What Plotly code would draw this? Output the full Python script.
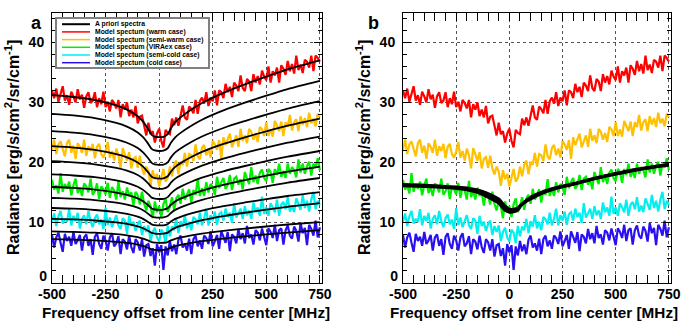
import plotly.graph_objects as go

# ---------------- data ----------------
FREQ = [-500, -490, -480, -470, -460, -450, -440, -430, -420, -410,
        -400, -390, -380, -370, -360, -350, -340, -330, -320, -310,
        -300, -290, -280, -270, -260, -250, -240, -230, -220, -210,
        -200, -190, -180, -170, -160, -150, -140, -130, -120, -110,
        -100, -90, -80, -70, -60, -50, -40, -30, -20, -10,
        0, 10, 20, 30, 40, 50, 60, 70, 80, 90,
        100, 110, 120, 130, 140, 150, 160, 170, 180, 190,
        200, 210, 220, 230, 240, 250, 260, 270, 280, 290,
        300, 310, 320, 330, 340, 350, 360, 370, 380, 390,
        400, 410, 420, 430, 440, 450, 460, 470, 480, 490,
        500, 510, 520, 530, 540, 550, 560, 570, 580, 590,
        600, 610, 620, 630, 640, 650, 660, 670, 680, 690,
        700, 710, 720, 730, 740, 750]

WARM = [32.0, 30.7, 32.3, 30.1, 31.4, 32.7, 30.3, 31.2, 29.6, 31.8,
        31.0, 30.0, 32.2, 30.5, 31.3, 29.1, 31.0, 31.7, 29.9, 30.3,
        31.7, 29.2, 30.7, 29.7, 31.8, 29.2, 30.1, 28.5, 30.4, 29.9,
        29.0, 30.4, 27.5, 29.7, 28.8, 30.0, 27.7, 28.8, 27.5, 29.4,
        26.5, 27.6, 27.8, 26.1, 24.5, 26.6, 24.7, 25.2, 23.3, 24.8,
        25.6, 23.6, 22.5, 25.4, 24.9, 24.7, 27.3, 26.2, 27.5, 26.1,
        27.9, 29.5, 27.5, 27.1, 29.3, 28.9, 28.2, 30.4, 28.1, 30.2,
        30.8, 29.8, 31.7, 29.4, 30.8, 30.2, 32.0, 29.5, 32.0, 31.7,
        30.7, 33.1, 31.7, 32.6, 30.9, 33.3, 32.8, 31.9, 34.5, 32.4,
        31.9, 33.9, 33.5, 31.9, 34.7, 33.3, 34.4, 33.0, 35.3, 34.3,
        33.7, 36.0, 33.3, 35.2, 34.5, 35.8, 33.3, 36.2, 35.6, 34.6,
        36.9, 35.2, 36.4, 34.8, 37.8, 35.4, 36.3, 34.9, 37.1, 36.8,
        35.8, 37.8, 35.2, 37.8, 37.4, 36.8]

SEMI_WARM = [22.1, 23.8, 21.4, 23.0, 23.5, 22.4, 21.0, 23.2, 23.8, 21.6,
             22.8, 20.6, 23.2, 22.6, 21.6, 23.8, 21.1, 22.7, 21.9, 23.1,
             20.7, 22.6, 23.1, 21.4, 20.8, 21.8, 23.4, 20.8, 21.9, 20.3,
             22.3, 21.2, 19.0, 22.4, 21.5, 20.3, 21.7, 19.0, 20.6, 20.9,
             19.1, 21.1, 19.0, 18.0, 19.3, 18.5, 16.1, 18.7, 17.2, 18.1,
             16.0, 17.7, 18.9, 16.8, 17.4, 19.3, 17.7, 19.6, 20.3, 18.0,
             20.1, 19.6, 21.6, 19.3, 21.4, 21.2, 20.2, 23.0, 21.0, 20.5,
             22.4, 22.9, 21.2, 22.3, 20.8, 23.6, 23.0, 22.1, 23.7, 20.6,
             24.2, 22.9, 23.8, 24.8, 22.5, 23.4, 24.5, 22.6, 25.6, 23.6,
             24.5, 23.2, 25.6, 25.1, 23.8, 24.9, 23.4, 25.9, 25.5, 24.4,
             26.7, 24.4, 25.5, 24.3, 26.9, 26.1, 25.2, 26.8, 24.4, 26.7,
             25.9, 27.9, 25.3, 26.7, 27.2, 25.2, 27.7, 26.3, 27.4, 25.9,
             28.3, 26.5, 27.3, 26.0, 28.1, 27.6]

VIRAEX = [17.1, 15.5, 16.2, 14.8, 18.2, 15.1, 16.4, 15.6, 16.8, 14.5,
          16.2, 17.3, 14.9, 15.8, 14.4, 16.5, 16.0, 15.0, 17.3, 14.6,
          15.2, 16.5, 13.9, 16.0, 15.5, 14.7, 16.6, 14.1, 15.9, 15.3,
          13.8, 16.9, 14.2, 15.2, 13.8, 15.8, 14.4, 15.0, 12.8, 15.1,
          14.5, 13.0, 15.1, 13.1, 12.0, 13.6, 12.7, 10.7, 13.5, 11.7,
          12.7, 10.9, 13.0, 14.0, 11.7, 12.6, 14.2, 12.1, 14.0, 14.6,
          13.1, 15.6, 13.8, 14.6, 15.5, 13.3, 15.4, 14.6, 17.2, 14.4,
          15.7, 14.4, 16.7, 15.0, 16.4, 15.9, 14.6, 17.6, 15.7, 16.7,
          17.4, 15.6, 16.2, 17.9, 15.4, 17.3, 17.6, 16.3, 17.2, 15.5,
          18.4, 17.3, 16.4, 19.2, 16.7, 17.8, 16.4, 18.3, 18.8, 17.4,
          16.9, 18.9, 18.4, 16.6, 18.9, 17.9, 19.8, 17.6, 18.6, 17.4,
          19.8, 18.1, 19.2, 18.7, 17.5, 20.5, 18.3, 19.8, 18.1, 19.4,
          20.1, 17.8, 19.8, 19.1, 20.7, 18.7]

SEMI_COLD = [10.1, 11.5, 9.4, 11.0, 11.9, 9.8, 10.6, 10.1, 12.2, 9.5,
             11.1, 10.2, 11.6, 9.0, 10.6, 11.2, 9.7, 11.9, 10.2, 9.2,
             10.7, 11.3, 9.7, 10.5, 8.9, 12.4, 9.6, 10.8, 9.2, 10.1,
             11.2, 9.5, 8.9, 10.7, 10.3, 8.1, 11.1, 9.4, 10.1, 8.6,
             9.7, 10.3, 7.9, 9.4, 8.4, 9.5, 6.9, 8.4, 9.1, 7.5,
             6.8, 8.8, 8.3, 6.5, 9.4, 7.7, 9.3, 8.7, 10.6, 8.2,
             10.2, 9.3, 11.2, 9.0, 10.1, 8.7, 10.9, 10.5, 9.7, 11.6,
             9.5, 10.6, 12.3, 9.5, 11.2, 10.3, 11.8, 9.6, 11.4, 11.7,
             10.3, 12.3, 10.9, 11.6, 9.9, 13.2, 10.8, 11.5, 12.3, 10.6,
             12.7, 11.2, 12.0, 10.6, 13.3, 11.7, 12.5, 11.1, 14.3, 11.4,
             12.5, 11.1, 13.2, 12.5, 11.7, 13.8, 11.1, 13.0, 13.4, 12.2,
             14.2, 11.8, 12.8, 11.7, 14.0, 13.1, 12.1, 14.6, 12.4, 13.6,
             11.8, 13.8, 15.1, 12.2, 13.6, 12.9]

COLD = [7.9, 5.8, 7.5, 8.3, 6.6, 5.1, 8.1, 6.9, 7.6, 6.1,
        8.4, 6.4, 7.0, 7.9, 5.3, 7.5, 8.0, 6.1, 7.2, 4.6,
        7.6, 8.2, 6.4, 5.6, 7.8, 7.0, 5.3, 7.5, 8.2, 6.0,
        6.5, 7.7, 4.7, 7.2, 6.8, 5.5, 7.8, 5.9, 4.9, 7.2,
        6.7, 5.3, 7.2, 4.3, 6.2, 6.4, 4.4, 5.7, 2.8, 6.4,
        5.0, 6.2, 2.1, 6.0, 4.5, 6.9, 5.2, 6.3, 4.7, 7.1,
        7.8, 5.8, 6.5, 5.3, 7.3, 4.7, 7.2, 7.8, 6.0, 7.0,
        5.6, 7.8, 7.4, 6.4, 8.5, 6.0, 6.9, 7.9, 5.6, 8.5,
        7.6, 6.6, 8.4, 5.2, 8.0, 7.6, 6.5, 8.9, 7.2, 8.2,
        6.5, 9.4, 7.4, 8.0, 6.3, 8.7, 8.3, 7.0, 9.0, 7.4,
        6.2, 9.0, 8.4, 7.4, 9.6, 6.9, 8.7, 9.0, 6.3, 8.7,
        9.5, 7.8, 7.3, 9.3, 8.6, 6.8, 9.9, 8.2, 9.1, 6.2,
        9.6, 8.9, 7.8, 10.3, 7.5, 9.2]

# a priori spectra (panel a)
FREQ_AP = [-500, -400, -300, -200, -150, -100, -75, -50, -35, -20, 0,
           20, 40, 55, 75, 100, 150, 200, 300, 400, 500, 600, 750]
AP_01 = [31.2, 30.9, 30.4, 29.5, 28.8, 27.7, 26.8, 25.5, 24.6, 24.3, 24.2, 24.25, 24.7, 25.7, 26.7, 27.5, 28.8, 29.9, 31.6, 33.0, 34.3, 35.5, 37.0]
AP_02 = [28.1, 27.83, 27.39, 26.59, 25.97, 25.0, 24.2, 23.05, 22.25, 21.99, 21.9, 21.95, 22.36, 23.27, 24.18, 24.92, 26.1, 27.11, 28.66, 29.95, 31.13, 32.23, 33.6]
AP_03 = [25.2, 24.96, 24.56, 23.84, 23.28, 22.4, 21.68, 20.64, 19.92, 19.68, 19.6, 19.64, 20.01, 20.84, 21.67, 22.33, 23.41, 24.32, 25.73, 26.89, 27.96, 28.96, 30.2]
AP_04 = [22.7, 22.47, 22.08, 21.39, 20.85, 20.0, 19.3, 18.3, 17.61, 17.38, 17.3, 17.34, 17.69, 18.47, 19.25, 19.88, 20.89, 21.75, 23.08, 24.18, 25.19, 26.13, 27.3]
AP_05 = [20.2, 20.0, 19.68, 19.08, 18.62, 17.9, 17.31, 16.46, 15.86, 15.66, 15.6, 15.63, 15.94, 16.62, 17.3, 17.84, 18.72, 19.47, 20.63, 21.59, 22.46, 23.28, 24.3]
AP_06 = [18.0, 17.82, 17.53, 17.0, 16.59, 15.95, 15.42, 14.66, 14.13, 13.96, 13.9, 13.93, 14.21, 14.84, 15.46, 15.96, 16.77, 17.46, 18.52, 19.4, 20.21, 20.96, 21.9]
AP_07 = [15.9, 15.74, 15.47, 14.98, 14.6, 14.0, 13.51, 12.81, 12.32, 12.15, 12.1, 12.13, 12.38, 12.94, 13.5, 13.96, 14.68, 15.3, 16.26, 17.05, 17.78, 18.46, 19.3]
AP_08 = [14.1, 13.96, 13.72, 13.3, 12.97, 12.45, 12.02, 11.41, 10.99, 10.85, 10.8, 10.83, 11.06, 11.57, 12.09, 12.5, 13.17, 13.74, 14.61, 15.34, 16.01, 16.63, 17.4]
AP_09 = [12.4, 12.28, 12.07, 11.7, 11.41, 10.95, 10.58, 10.04, 9.67, 9.54, 9.5, 9.52, 9.72, 10.15, 10.58, 10.93, 11.49, 11.97, 12.71, 13.32, 13.88, 14.4, 15.05]
AP_10 = [10.6, 10.49, 10.32, 9.99, 9.74, 9.35, 9.03, 8.57, 8.24, 8.14, 8.1, 8.12, 8.3, 8.7, 9.09, 9.42, 9.93, 10.37, 11.05, 11.61, 12.12, 12.6, 13.2]
AP_11 = [8.5, 8.42, 8.28, 8.04, 7.85, 7.55, 7.3, 6.95, 6.71, 6.63, 6.6, 6.61, 6.73, 7.0, 7.27, 7.49, 7.84, 8.14, 8.59, 8.97, 9.32, 9.65, 10.05]
AP_12 = [7.2, 7.12, 6.99, 6.76, 6.58, 6.3, 6.07, 5.73, 5.5, 5.43, 5.4, 5.41, 5.53, 5.79, 6.04, 6.25, 6.58, 6.87, 7.31, 7.67, 8.0, 8.31, 8.7]

# retrieved spectra (panel b), overlapping bundle
RET_1 = [16.2, 16.1, 15.9, 15.6, 15.2, 14.5, 14.1, 13.6, 13.0, 12.4, 12.0, 12.05, 12.3, 12.9, 13.5, 14.1, 14.9, 15.5, 16.4, 17.3, 18.1, 18.8, 19.6]
RET_2 = [16.3, 16.2, 16.0, 15.75, 15.4, 14.8, 14.4, 13.9, 13.3, 12.7, 12.2, 12.2, 12.4, 12.9, 13.4, 13.9, 14.8, 15.45, 16.35, 17.25, 18.05, 18.75, 19.55]
RET_3 = [16.1, 16.0, 15.8, 15.45, 15.0, 14.2, 13.7, 13.2, 12.6, 12.0, 11.7, 11.75, 12.1, 12.8, 13.5, 14.2, 15.0, 15.6, 16.45, 17.35, 18.15, 18.85, 19.65]

X_TICKS = [-500, -250, 0, 250, 500, 750]
X_TICK_LABELS = ["-500", "-250", "0", "250", "500", "750"]
Y_TICKS = [10, 20, 30, 40]
Y_TICK_LABELS = ["10", "20", "30", "40"]
Y_ZERO_TICK = [0]
Y_ZERO_LABEL = ["0"]

SERIES = [("Model spectum (warm case)", WARM, "#ff0000"),
          ("Model spectum (semi-warm case)", SEMI_WARM, "#ffc000"),
          ("Model spectum (VIRAex case)", VIRAEX, "#00ee00"),
          ("Model spectum (semi-cold case)", SEMI_COLD, "#00f0f0"),
          ("Model spectum (cold case)", COLD, "#2a10f0")]
AP_CURVES = [AP_01, AP_02, AP_03, AP_04, AP_05, AP_06, AP_07, AP_08, AP_09, AP_10, AP_11, AP_12]
RET_CURVES = [RET_1, RET_2, RET_3]

FONT = "Liberation Sans, Arial, Helvetica, sans-serif"

fig = go.Figure()
for xa, ya in (("x", "y"), ("x2", "y2")):
    for name, vals, col in SERIES:
        fig.add_trace(go.Scatter(x=FREQ, y=vals, mode="lines", name=name,
                                 line=dict(color=col, width=2.2),
                                 xaxis=xa, yaxis=ya, showlegend=False))
for vals in AP_CURVES:
    fig.add_trace(go.Scatter(x=FREQ_AP, y=vals, mode="lines", name="A priori spectra",
                             line=dict(color="black", width=1.8, shape="spline", smoothing=0.8),
                             xaxis="x", yaxis="y", showlegend=False))
for vals in RET_CURVES:
    fig.add_trace(go.Scatter(x=FREQ_AP, y=vals, mode="lines",
                             line=dict(color="black", width=3, shape="spline", smoothing=0.8),
                             xaxis="x2", yaxis="y2", showlegend=False))
# empty helper traces so the overlay axes carrying the "0" label are drawn
fig.add_trace(go.Scatter(x=[], y=[], xaxis="x", yaxis="y3", showlegend=False, hoverinfo="skip"))
fig.add_trace(go.Scatter(x=[], y=[], xaxis="x2", yaxis="y4", showlegend=False, hoverinfo="skip"))

W, H = 685, 327
def px(x):
    return x / W
def py(y):
    return 1 - y / H

xdom_a = [px(52), px(322)]
xdom_b = [px(403), px(671)]
ydom = [py(283), py(13)]
Y_RANGE = [-0.1, 44.9]

tickfont = dict(family=FONT, size=14, color="black", weight="bold")

def bold(lbls):
    return ["<b>%s</b>" % s for s in lbls]

def xax(dom, anchor):
    return dict(domain=dom, anchor=anchor, range=[-500, 760], automargin=False,
                tickmode="array", tickvals=X_TICKS, ticktext=bold(X_TICK_LABELS),
                ticks="inside", ticklen=8, tickwidth=1, tickcolor="black",
                mirror="allticks", showline=True, linecolor="black", linewidth=1,
                showgrid=True, gridcolor="#555555", griddash="dot", gridwidth=1,
                zeroline=False, tickfont=tickfont, ticklabelstandoff=-2,
                minor=dict(ticks="inside", ticklen=4, dtick=50, tick0=0,
                           tickcolor="black", showgrid=False))

def yax(dom, anchor):
    return dict(domain=dom, anchor=anchor, range=Y_RANGE, automargin=False,
                tickmode="array", tickvals=Y_TICKS, ticktext=bold(Y_TICK_LABELS),
                ticks="inside", ticklen=8, tickwidth=1, tickcolor="black",
                mirror="allticks", showline=True, linecolor="black", linewidth=1,
                showgrid=True, gridcolor="#555555", griddash="dot", gridwidth=1,
                zeroline=False, tickfont=tickfont, ticklabelstandoff=4,
                minor=dict(ticks="inside", ticklen=4, dtick=2, tick0=0,
                           tickcolor="black", showgrid=False))

def yzero(base, anchor):
    return dict(overlaying=base, anchor=anchor, range=Y_RANGE, automargin=False,
                tickmode="array", tickvals=Y_ZERO_TICK, ticktext=bold(Y_ZERO_LABEL),
                ticks="", showline=False, showgrid=False, zeroline=False,
                tickfont=tickfont, ticklabelstandoff=4, ticklabelshift=-6, side="left")

fig.update_layout(
    template="none",
    width=W, height=H, margin=dict(l=0, r=0, t=0, b=0, autoexpand=False),
    paper_bgcolor="white", plot_bgcolor="white", showlegend=False,
    xaxis=xax(xdom_a, "y"), yaxis=yax(ydom, "x"),
    xaxis2=xax(xdom_b, "y2"), yaxis2=yax(ydom, "x2"),
    yaxis3=yzero("y", "x"), yaxis4=yzero("y2", "x2"),
)

XTITLE = "<b>Frequency offset from line center [MHz]</b>"
YTITLE = "<b>Radiance [erg/s/cm<sup>2</sup>/sr/cm<sup>-1</sup>]</b>"
xtitle_font = dict(family=FONT, size=15.3, color="black")
ytitle_font = dict(family=FONT, size=16, color="black")

annotations = [
    dict(text="<b>a</b>", x=px(29), y=py(11), xref="paper", yref="paper", showarrow=False,
         font=dict(family=FONT, size=18, color="black")),
    dict(text="<b>b</b>", x=px(373), y=py(11), xref="paper", yref="paper", showarrow=False,
         font=dict(family=FONT, size=18, color="black")),
    dict(text=XTITLE, x=px(186), y=py(312), xref="paper", yref="paper", showarrow=False,
         xanchor="center", yanchor="middle", font=xtitle_font),
    dict(text=XTITLE, x=px(534), y=py(312), xref="paper", yref="paper", showarrow=False,
         xanchor="center", yanchor="middle", font=xtitle_font),
    dict(text=YTITLE, x=px(12), y=py(148), xref="paper", yref="paper", showarrow=False,
         textangle=-90, xanchor="center", yanchor="middle", font=ytitle_font),
    dict(text=YTITLE, x=px(363), y=py(148), xref="paper", yref="paper", showarrow=False,
         textangle=-90, xanchor="center", yanchor="middle", font=ytitle_font),
]
shapes = [dict(type="rect", xref="paper", yref="paper", x0=px(56), x1=px(209),
               y0=py(68), y1=py(18), line=dict(color="#808080", width=2),
               fillcolor="white", layer="above")]
legend_items = [("A priori spectra", "black", 2)] + [(n, c, 1.5) for n, _, c in SERIES]
rows = [24.2, 31.9, 39.6, 47.3, 55.0, 62.7]
for (label, col, lw), ry in zip(legend_items, rows):
    shapes.append(dict(type="line", xref="paper", yref="paper", x0=px(62), x1=px(90),
                       y0=py(ry), y1=py(ry), line=dict(color=col, width=lw), layer="above"))
    annotations.append(dict(text="<b>%s</b>" % label, x=px(93), y=py(ry), xref="paper", yref="paper",
                            xanchor="left", yanchor="middle", showarrow=False,
                            font=dict(family=FONT, size=6.8, color="black")))
fig.update_layout(shapes=shapes, annotations=annotations)

fig.write_html("out.html", config={"displayModeBar": False},
               post_script="document.body.style.margin='0px';document.body.style.overflow='hidden';")
